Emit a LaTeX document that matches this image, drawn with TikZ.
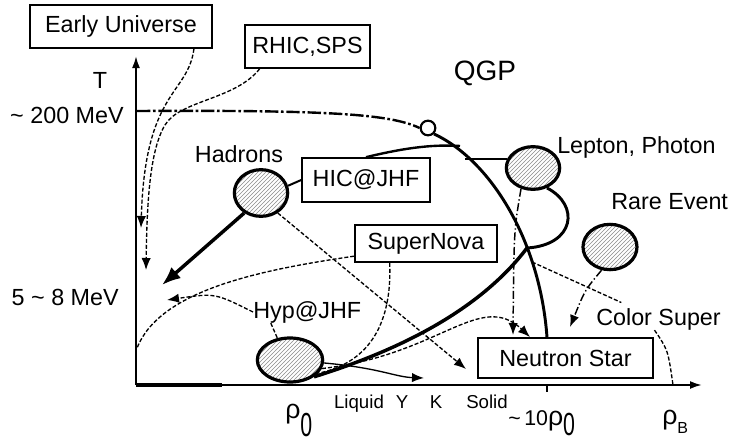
\documentclass[tikz,border=0pt]{standalone}
\usepackage{fontspec}
\usepackage{graphicx}
\setmainfont{Liberation Sans}
\usetikzlibrary{arrows.meta,shapes.geometric,patterns}

\begin{document}
\begin{tikzpicture}[x=0.75pt, y=-0.75pt,
  axis/.style={draw=black, line width=1.5pt},
  box/.style={draw=black, line width=1.2pt, font=\fontsize{17.5}{20}\selectfont, inner sep=0pt},
  blob/.style={ellipse, draw=black, line width=2.4pt, preaction={fill=white}, pattern=north east lines, pattern color=black!45, inner sep=0pt},
  lbl/.style={font=\fontsize{17.5}{20}\selectfont, inner sep=0pt},
  wordlbl/.style={font=\fontsize{14}{16}\selectfont, inner sep=0pt, anchor=base},
  bound/.style={draw=black, line width=2.2pt},
  lead/.style={draw=black, line width=1pt, dash pattern=on 3pt off 1.5pt},
  ddline/.style={draw=black, line width=1.1pt, dash pattern=on 6pt off 2pt on 1pt off 2pt},
  crossline/.style={draw=black, line width=1.8pt, dash pattern=on 10pt off 2pt on 2pt off 2pt},
  arrowtip/.style={-{Latex[length=9pt,width=7pt]}},
  bigtip/.style={-{Latex[length=14pt,width=11pt]}},
]
  \useasboundingbox (0,0) rectangle (729,446);
  \coordinate (O) at (136,385);
  \coordinate (ytip) at (136,56);
  \coordinate (xtip) at (702,385);
  \coordinate (tick) at (547,385);
  \draw[axis, -{Latex[length=9pt,width=6pt]}] (O) -- (ytip);
  \draw[axis, -{Latex[length=9pt,width=6pt]}] (O) -- (xtip);
  \draw[axis] (tick) -- ++(0,7);
  \draw[line width=2.6pt] (O) -- (222,385);

  \node[lbl] (T) at (100,80) {T};
  \node[lbl, anchor=east] (tc) at (124,115) {\textasciitilde{} 200 MeV};
  \node[lbl, anchor=east] (tn) at (119,297) {5 \textasciitilde{} 8 MeV};
  \node[font=\fontsize{21}{24}\selectfont, inner sep=0pt] (qgp) at (485,73) {QGP};
  \node[lbl] (hadlbl) at (239,154) {Hadrons};
  \node[lbl, anchor=west] (leplbl) at (557,147) {Lepton, Photon};
  \node[lbl, anchor=west] (rarelbl) at (611,202) {Rare Event};
  \node[lbl, anchor=west] (cs) at (596,319) {Color Super};
  \node[lbl, anchor=west] (hyplbl) at (253,312) {Hyp@JHF};

  \node[wordlbl] (liq) at (359,408) {Liquid};
  \node[wordlbl] (hyy) at (402,408) {Y};
  \node[wordlbl] (kk) at (436,408) {K};
  \node[wordlbl] (sol) at (487,408) {Solid};
  \node[anchor=base west, inner sep=0pt] (rho0) at (285,418) {\fontsize{20}{22}\selectfont ρ\raisebox{-14pt}{\scalebox{0.8}[1.25]{0}}};
  \node[anchor=base west, inner sep=0pt] (rho10) at (508,425) {\fontsize{16}{18}\selectfont\textasciitilde\,10\fontsize{20}{22}\selectfont ρ\raisebox{-8pt}{\scalebox{0.8}[1.2]{0}}};
  \node[anchor=base west, inner sep=0pt] (rhob) at (662,424) {\fontsize{20}{22}\selectfont ρ\raisebox{-7pt}{\fontsize{12}{14}\selectfont B}};

  \node[box, minimum width=136.5pt, minimum height=32.25pt] (eu) at (121,26.5) {Early Universe};
  \node[box, minimum width=93.75pt, minimum height=32.25pt] (rhic) at (307.5,46.5) {RHIC,SPS};
  \node[box, minimum width=96pt, minimum height=33pt] (hic) at (366,180) {HIC@JHF};
  \node[box, minimum width=106.5pt, minimum height=27.75pt] (snova) at (426,243.5) {SuperNova};
  \node[box, minimum width=131.25pt, minimum height=30pt, fill=white] (nstar) at (565.5,358) {Neutron Star};

  \node[blob, minimum width=40pt, minimum height=35pt] (hadrons) at (261,193) {};
  \node[blob, minimum width=40pt, minimum height=32pt] (lep) at (533,168) {};
  \node[blob, minimum width=40.5pt, minimum height=34pt] (rare) at (610,247) {};
  \node[blob, minimum width=49pt, minimum height=33pt] (hyp) at (290,360) {};
  \node[draw, circle, line width=1.6pt, minimum size=11pt, inner sep=0pt, fill=white] (cp) at (428,128) {};

  \coordinate (tcstart) at (137,111);
  \coordinate (hicjoin) at (460,146);
  \coordinate (lepjoin) at (465,161);
  \coordinate (loopjoin) at (527,248);
  \coordinate (nsarrow1) at (513,335);
  \coordinate (nsarrow2) at (530,337);
  \coordinate (yarrow) at (424,378);
  \coordinate (hadtip) at (162,285);
  \coordinate (hadtip2) at (466,369);
  \coordinate (eutip) at (141,228);
  \coordinate (rhictip) at (146,270);
  \coordinate (snend) at (137,348);
  \coordinate (hyptip) at (167,300);
  \coordinate (csjoin) at (532,262);
  \coordinate (csfoot) at (673,385);
  \coordinate (raretip) at (570,327);

  \draw[crossline] (tcstart) .. controls (330,110) and (390,114) .. (cp.west);
  \draw[bound, line width=1.8pt] (hic.north) .. controls (400,149) and (430,144) .. (hicjoin);
  \draw[line width=1.5pt] (lep.160) -- (lep.160 -| lepjoin);
  \draw[bound] (lep.-55) .. controls (580,205) and (575,245) .. (loopjoin);
  \draw[ddline, arrowtip] (lep.-120) .. controls (514,230) .. (nsarrow1);
  \draw[lead, arrowtip] (hyp.-15) .. controls (440,355) and (480,290) .. (nsarrow2);
  \draw[bound, line width=2.6pt] (hyp.-35) .. controls (400,350) and (480,310) .. (loopjoin);
  \draw[line width=1pt, arrowtip] (hyp.-5) .. controls (380,368) and (395,377) .. (yarrow);
  \draw[line width=2.6pt, bigtip] (hadrons.-130) -- (hadtip);
  \draw[lead, arrowtip] (hadrons.-50) -- (hadtip2);
  \draw[line width=1.5pt] (hadrons.15) -- (hic.west);
  \draw[lead, arrowtip] (eu.-17) .. controls (188,95) and (145,90) .. (eutip);
  \draw[lead, arrowtip] (rhic.-155) .. controls (235,100) and (180,100) .. (165,125) .. controls (150,150) and (147,200) .. (rhictip);
  \draw[lead] (snova.190) .. controls (260,270) and (160,290) .. (snend);
  \draw[lead] (snova.-152) .. controls (392,320) and (372,362) .. (hyp.-25);
  \draw[lead, arrowtip] (hyplbl.west) .. controls (215,293) .. (hyptip);
  \draw[lead] (hyplbl.197) -- (hyp.120);
  \draw[lead] (csjoin) -- ([xshift=19pt, yshift=4pt]cs.north west);
  \draw[lead] ([xshift=-3pt]cs.south) .. controls (668,350) .. (csfoot);
  \draw[ddline, arrowtip] (rare.-110) .. controls (585,290) .. (raretip);
  \draw[bound] (cp.south east) .. controls (490,160) and (540,240) .. (nstar.north -| tick);
\end{tikzpicture}
\end{document}
